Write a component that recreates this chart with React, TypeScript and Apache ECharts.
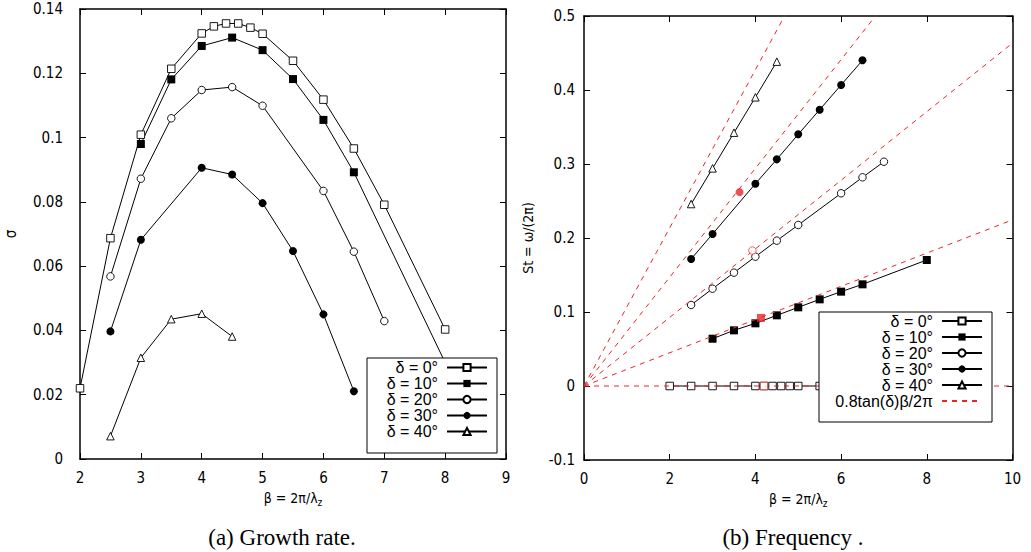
import React, { useEffect, useRef } from "react";
import * as echarts from "echarts";

// ---------- data ----------
const legendNames = ["δ = 0°", "δ = 10°", "δ = 20°", "δ = 30°", "δ = 40°"];
const fitName = "0.8tan(δ)β/2π";
const deltasDeg = [0, 10, 20, 30, 40];

// (a) growth rate sigma vs beta
const betaA0 = [2, 2.5, 3, 3.5, 4, 4.2, 4.4, 4.6, 4.8, 5, 5.5, 6, 6.5, 7, 8];
const sigma0 = [0.022, 0.0687, 0.1009, 0.1214, 0.1324, 0.1346, 0.1355, 0.1355, 0.1342, 0.1323, 0.1239, 0.1118, 0.0966, 0.0791, 0.0403];
const betaA10 = [3, 3.5, 4, 4.5, 5, 5.5, 6, 6.5, 8];
const sigma10 = [0.098, 0.1181, 0.1285, 0.1311, 0.1272, 0.1182, 0.1055, 0.0892, 0.030];
const betaA20 = [2.5, 3, 3.5, 4, 4.5, 5, 6, 6.5, 7];
const sigma20 = [0.0568, 0.0872, 0.106, 0.1148, 0.1157, 0.1099, 0.0834, 0.0645, 0.0429];
const betaA30 = [2.5, 3, 4, 4.5, 5, 5.5, 6, 6.5];
const sigma30 = [0.0397, 0.0682, 0.0906, 0.0885, 0.0796, 0.0647, 0.045, 0.0211];
const betaA40 = [2.5, 3, 3.5, 4, 4.5];
const sigma40 = [0.0071, 0.0315, 0.0435, 0.0452, 0.0381];

// (b) frequency St vs beta
const betaB0 = [2, 2.5, 3, 3.5, 4, 4.2, 4.4, 4.6, 4.8, 5, 5.5, 6, 6.5, 7, 8];
const st0 = [0, 0, 0, 0, 0, 0, 0, 0, 0, 0, 0, 0, 0, 0, 0];
const betaB10 = [3, 3.5, 4, 4.5, 5, 5.5, 6, 6.5, 8];
const st10 = [0.0639, 0.0752, 0.0847, 0.0955, 0.1063, 0.1171, 0.1275, 0.1374, 0.1703];
const betaB20 = [2.5, 3, 3.5, 4, 4.5, 5, 6, 6.5, 7];
const st20 = [0.1095, 0.1315, 0.1532, 0.1748, 0.1964, 0.2176, 0.2604, 0.282, 0.3031];
const betaB30 = [2.5, 3, 4, 4.5, 5, 5.5, 6, 6.5];
const st30 = [0.1716, 0.2054, 0.2734, 0.3063, 0.3401, 0.3734, 0.4068, 0.4401];
const betaB40 = [2.5, 3, 3.5, 4, 4.5];
const st40 = [0.2459, 0.2941, 0.3423, 0.3901, 0.4383];

// red highlighted points
const redBeta = [3.63, 3.93, 4.13, 4.2];
const redSt = [0.262, 0.183, 0.092, 0];
const redShapes = ["circle", "circle", "rect", "rect"];
const redOpen = [false, true, false, true];

const shapes = ["rect", "rect", "circle", "circle", "triangle"];
const open = [true, false, true, false, true];

const FONT = "'Liberation Sans', Arial, Helvetica, sans-serif";
const NARROW = "'Liberation Sans Narrow', 'Arial Narrow', 'DejaVu Sans Condensed', 'Liberation Sans', sans-serif";
const SERIF = "'Liberation Serif', 'Times New Roman', serif";
const RED = "#e8262a";

function pairs(xs: number[], ys: number[]) {
  return xs.map((x, i) => [x, ys[i]]);
}

function markStyle(isOpen: boolean, color: string) {
  return isOpen
    ? { color: "#fff", borderColor: color, borderWidth: 0.9 }
    : { color, borderWidth: 0 };
}

function lineSeries(name: string, xs: number[], ys: number[], i: number, axis: number) {
  return {
    type: "line",
    name,
    data: pairs(xs, ys),
    xAxisIndex: axis,
    yAxisIndex: axis,
    symbol: shapes[i],
    symbolSize: open[i] ? 7.5 : 8,
    showAllSymbol: true,
    z: 2,
    lineStyle: { color: "#000", width: 1 },
    itemStyle: markStyle(open[i], "#000"),
    emphasis: { disabled: true },
  };
}

export default function App() {
  const ref = useRef<HTMLDivElement>(null);
  useEffect(() => {
    if (!ref.current) return;
    const chart = echarts.init(ref.current, undefined, { renderer: "svg" });

    const axisLine = { show: true, onZero: false, lineStyle: { color: "#000", width: 1.5 } };
    const tick = { show: true, inside: true, length: 6, lineStyle: { color: "#000", width: 1 } };
    const label = (margin: number) => ({ show: true, color: "#000", fontSize: 15, fontFamily: NARROW, margin });
    const nameStyle = {
      color: "#000",
      fontSize: 14,
      fontFamily: NARROW,
      rich: { sub: { fontSize: 10, fontFamily: NARROW, color: "#000", padding: [9, 0, 0, 0] } },
    };

    const xA = { min: 2, max: 9, interval: 1 };
    const yA = { min: 0, max: 0.14, interval: 0.02 };
    const xB = { min: 0, max: 10, interval: 2 };
    const yB = { min: -0.1, max: 0.5, interval: 0.1 };

    const dataA = [
      [betaA0, sigma0],
      [betaA10, sigma10],
      [betaA20, sigma20],
      [betaA30, sigma30],
      [betaA40, sigma40],
    ];
    const dataB = [
      [betaB0, st0],
      [betaB10, st10],
      [betaB20, st20],
      [betaB30, st30],
      [betaB40, st40],
    ];

    const series: any[] = [];
    dataA.forEach((d, i) => series.push(lineSeries(legendNames[i], d[0], d[1], i, 0)));
    dataB.forEach((d, i) => series.push(lineSeries(legendNames[i], d[0], d[1], i, 2)));
    deltasDeg.forEach((deg) => {
      const slope = (0.8 * Math.tan((deg * Math.PI) / 180)) / (2 * Math.PI);
      series.push({
        type: "line",
        name: fitName,
        data: [
          [xB.min, slope * xB.min],
          [xB.max, slope * xB.max],
        ],
        xAxisIndex: 2,
        yAxisIndex: 2,
        symbol: "none",
        z: 3,
        clip: true,
        lineStyle: { color: RED, width: 1, type: [5, 5] },
        itemStyle: { color: RED },
        emphasis: { disabled: true },
      });
    });
    series.push({
      type: "scatter",
      name: "max",
      xAxisIndex: 2,
      yAxisIndex: 2,
      z: 3,
      data: redBeta.map((b, i) => ({
        value: [b, redSt[i]],
        symbol: redShapes[i],
        symbolSize: redOpen[i] ? 7.5 : 8,
        itemStyle: markStyle(redOpen[i], RED),
      })),
      emphasis: { disabled: true },
    });

    const legendText = { color: "#000", fontSize: 16, fontFamily: FONT, lineHeight: 15.5, padding: [0, 4, 0, 0] };

    chart.setOption({
      animation: false,
      backgroundColor: "#fff",
      grid: [
        { left: 80, top: 9, width: 426, height: 450, containLabel: false },
        { left: 584, top: 16, width: 428.5, height: 444, containLabel: false },
      ],
      xAxis: [
        {
          gridIndex: 0, type: "value", position: "bottom", ...xA,
          name: "β = 2π/λ{sub|z}", nameLocation: "middle", nameGap: 29, nameTextStyle: nameStyle,
          axisLine, axisTick: tick, axisLabel: label(11), splitLine: { show: false },
        },
        {
          gridIndex: 0, type: "value", position: "top", ...xA,
          axisLine, axisTick: tick, axisLabel: { show: false }, splitLine: { show: false },
        },
        {
          gridIndex: 1, type: "value", position: "bottom", ...xB,
          name: "β = 2π/λ{sub|z}", nameLocation: "middle", nameGap: 29, nameTextStyle: nameStyle,
          axisLine, axisTick: tick, axisLabel: label(11), splitLine: { show: false },
        },
        {
          gridIndex: 1, type: "value", position: "top", ...xB,
          axisLine, axisTick: tick, axisLabel: { show: false }, splitLine: { show: false },
        },
      ],
      yAxis: [
        {
          gridIndex: 0, type: "value", position: "left", ...yA,
          name: "σ", nameLocation: "middle", nameGap: 62, nameRotate: 90,
          nameTextStyle: { color: "#000", fontSize: 15, fontFamily: NARROW },
          axisLine, axisTick: tick, axisLabel: label(17), splitLine: { show: false },
        },
        {
          gridIndex: 0, type: "value", position: "right", ...yA,
          axisLine, axisTick: tick, axisLabel: { show: false }, splitLine: { show: false },
        },
        {
          gridIndex: 1, type: "value", position: "left", ...yB,
          name: "St = ω/(2π)", nameLocation: "middle", nameGap: 49, nameRotate: 90,
          nameTextStyle: { color: "#000", fontSize: 14, fontFamily: NARROW },
          axisLine, axisTick: tick, axisLabel: label(9), splitLine: { show: false },
        },
        {
          gridIndex: 1, type: "value", position: "right", ...yB,
          axisLine, axisTick: tick, axisLabel: { show: false }, splitLine: { show: false },
        },
      ],
      legend: [
        {
          data: legendNames,
          orient: "vertical",
          align: "right",
          right: 1031 - 488,
          top: 359.5,
          padding: 0,
          itemWidth: 40,
          itemHeight: 9,
          itemGap: 0,
          selectedMode: false,
          z: 5,
          textStyle: legendText,
        },
        {
          data: [...legendNames, { name: fitName, itemStyle: { opacity: 0 } }],
          orient: "vertical",
          align: "right",
          right: 1031 - 983,
          top: 313,
          padding: 0,
          itemWidth: 40,
          itemHeight: 9,
          itemGap: 0,
          selectedMode: false,
          z: 5,
          textStyle: legendText,
        },
      ],
      graphic: [
        {
          type: "rect",
          z: 4,
          shape: { x: 367, y: 358, width: 130, height: 95 },
          style: { fill: "#fff", stroke: "#000", lineWidth: 1 },
        },
        {
          type: "rect",
          z: 4,
          shape: { x: 819, y: 312, width: 173, height: 110 },
          style: { fill: "#fff", stroke: "#000", lineWidth: 1 },
        },
        {
          type: "text",
          x: 282,
          y: 537,
          style: { text: "(a) Growth rate.", fill: "#000", font: `23px ${SERIF}`, align: "center", verticalAlign: "middle" },
        },
        {
          type: "text",
          x: 793,
          y: 537,
          style: { text: "(b) Frequency .", fill: "#000", font: `23px ${SERIF}`, align: "center", verticalAlign: "middle" },
        },
      ],
      series,
    });

    return () => chart.dispose();
  }, []);

  return (
    <div
      ref={ref}
      style={{ position: "absolute", left: 0, top: 0, width: 1031, height: 552, background: "#fff" }}
    />
  );
}
